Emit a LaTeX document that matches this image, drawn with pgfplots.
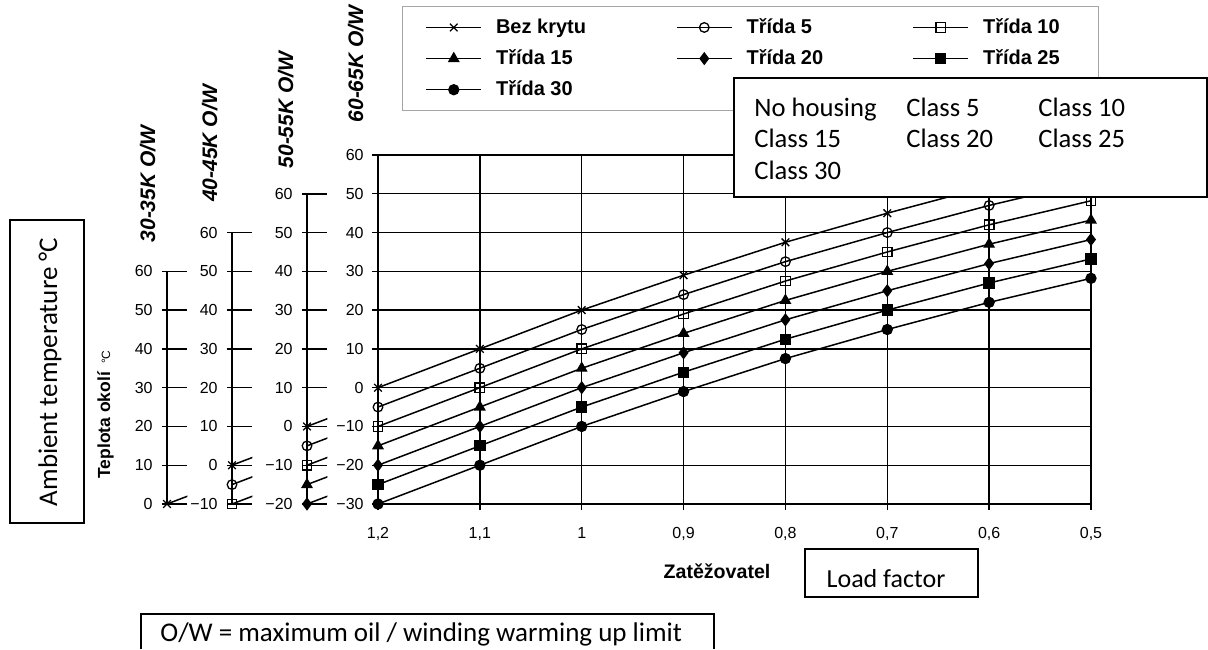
\documentclass[border=0pt]{standalone}
\usepackage{fontspec}
\setmainfont{Liberation Sans}
\newfontfamily\calfont{Carlito}
\usepackage{pgfplots}
\pgfplotsset{compat=1.18}
\usepackage{pgfplotstable}

% ambient temperature vs load factor, one column per housing class
\pgfplotstableread{
x    b     c5    c10   c15   c20   c25   c30
1.2  0     -5    -10   -15   -20   -25   -30
1.1  10    5     0     -5    -10   -15   -20
1.0  20    15    10    5     0     -5    -10
0.9  29    24    19    14    9     4     -1
0.8  37.5  32.5  27.5  22.5  17.5  12.5  7.5
0.7  45    40    35    30    25    20    15
0.6  52    47    42    37    32    27    22
0.5  58.2  53.2  48.2  43.2  38.2  33.2  28.2
}\loadtab

\newcommand\ylab{\pgfmathtruncatemacro\myt{\tick}\ifnum\myt<0 −\the\numexpr-\myt\relax\else\myt\fi}
\newcommand\tickfont{\fontsize{8}{9}\selectfont}

\pgfplotsset{
  ser/.style={black, line width=0.75pt, mark size=2.4pt, mark options={solid, line width=0.65pt}},
  sb/.style={ser, mark=x, mark size=2.7pt},
  s5/.style={ser, mark=o},
  s10/.style={ser, mark=square},
  s15/.style={ser, mark=triangle*, mark size=2.8pt},
  s20/.style={ser, mark=diamond*, mark size=2.8pt},
  s25/.style={ser, mark=square*, mark size=2.5pt},
  s30/.style={ser, mark=*, mark size=2.5pt},
  smallax/.style={
    scale only axis, anchor=south west, width=10.2pt,
    xmin=1.18, xmax=1.2, x dir=reverse,
    ymax=60, ytick distance=10,
    axis x line=none, axis y line=left,
    axis line style={black, line width=0.9pt, -},
    major tick length=12.5pt, tick align=inside,
    ytick style={black, line width=0.7pt, xshift=-2.5pt},
    yticklabel style={font=\tickfont, anchor=east, inner xsep=0pt, xshift=-7pt},
    yticklabel={\ylab},
  },
}

\begin{document}
\begin{tikzpicture}
\useasboundingbox (0,0) rectangle (604pt,324.5pt);

% 30-35K O/W scale
\begin{axis}[smallax, at={(83.5pt,72.5pt)}, height=116.35pt, ymin=0]
\addplot[sb] table[x=x, y=b] {\loadtab};
\end{axis}

% 40-45K O/W scale
\begin{axis}[smallax, at={(116pt,72.5pt)}, height=135.7pt, ymin=-10]
\addplot[sb] table[x=x, y=b] {\loadtab};
\addplot[s5] table[x=x, y=c5] {\loadtab};
\addplot[s10] table[x=x, y=c10] {\loadtab};
\end{axis}

% 50-55K O/W scale
\begin{axis}[smallax, at={(153.5pt,72.5pt)}, height=155.1pt, ymin=-20]
\addplot[sb] table[x=x, y=b] {\loadtab};
\addplot[s5] table[x=x, y=c5] {\loadtab};
\addplot[s10] table[x=x, y=c10] {\loadtab};
\addplot[s15] table[x=x, y=c15] {\loadtab};
\addplot[s20] table[x=x, y=c20] {\loadtab};
\end{axis}

% main chart, 60-65K O/W
\begin{axis}[
  at={(189pt,72.5pt)}, anchor=south west, scale only axis,
  width=356.5pt, height=174.5pt,
  xmin=0.5, xmax=1.2, x dir=reverse, ymin=-30, ymax=60,
  xtick={0.5,0.6,0.7,0.8,0.9,1,1.1,1.2},
  ytick={-30,-20,-10,0,10,20,30,40,50,60},
  grid=major, major grid style={black, line width=0.65pt},
  axis line style={black, line width=0.8pt},
  tick pos=left, tick align=outside, major tick length=3pt,
  tick style={black, line width=0.65pt},
  xticklabel style={font=\tickfont, yshift=-5pt,
    /pgf/number format/use comma, /pgf/number format/assume math mode=true},
  yticklabel style={font=\tickfont, inner xsep=0pt, xshift=-4pt},
  yticklabel={\ylab},
  legend columns=3,
  legend cell align=left,
  legend image code/.code={\draw[mark repeat=2, mark phase=2] plot coordinates {(0pt,0pt) (13.75pt,0pt) (27.5pt,0pt)};},
  legend style={at={(axis description cs:0.0337,1.427)}, anchor=north west,
    draw=gray!70, line width=0.5pt, row sep=2.6pt, inner xsep=11.5pt, inner ysep=4pt,
    /tikz/every odd column/.append style={column sep=5pt},
    font=\bfseries\fontsize{10}{11}\selectfont},
]
\addplot[sb] table[x=x, y=b] {\loadtab};
\addlegendentry{\makebox[88pt][l]{Bez krytu}}
\addplot[s5] table[x=x, y=c5] {\loadtab};
\addlegendentry{\makebox[81pt][l]{Třída 5}}
\addplot[s10] table[x=x, y=c10] {\loadtab};
\addlegendentry{\makebox[44pt][l]{Třída 10}}
\addplot[s15] table[x=x, y=c15] {\loadtab};
\addlegendentry{Třída 15}
\addplot[s20] table[x=x, y=c20] {\loadtab};
\addlegendentry{Třída 20}
\addplot[s25] table[x=x, y=c25] {\loadtab};
\addlegendentry{Třída 25}
\addplot[s30] table[x=x, y=c30] {\loadtab};
\addlegendentry{Třída 30}
\end{axis}

% scale headings
\begin{scope}[every node/.style={rotate=90, anchor=base, font=\bfseries\itshape\fontsize{10.5}{12}\selectfont}]
\node at (77.5pt,232.5pt) {30-35K O/W};
\node at (108.5pt,252.75pt) {40-45K O/W};
\node at (146.5pt,269.5pt) {50-55K O/W};
\node at (181.5pt,292.5pt) {60-65K O/W};
\end{scope}

\node[rotate=90, anchor=base, font=\bfseries\fontsize{8.75}{10}\selectfont] at (55pt,117.25pt) {Teplota okolí\hspace{4pt}{\mdseries\fontsize{6}{7}\selectfont °C}};
\node[anchor=base, font=\bfseries\fontsize{9.8}{11}\selectfont] at (358.5pt,35.25pt) {Zatěžovatel};

% English annotation boxes
\draw[line width=1pt, fill=white] (367pt,285.5pt) rectangle (603.5pt,226pt);
\begin{scope}[every node/.style={anchor=base west, inner sep=0pt, font=\calfont\fontsize{13.3}{15}\selectfont}]
\node at (377pt,266pt) {No housing};
\node at (453pt,266pt) {Class 5};
\node at (519pt,266pt) {Class 10};
\node at (377pt,251pt) {Class 15};
\node at (453pt,251pt) {Class 20};
\node at (519pt,251pt) {Class 25};
\node at (377pt,234.5pt) {Class 30};
\end{scope}

\draw[line width=1pt] (5pt,214.5pt) rectangle (42pt,63pt);
\node[rotate=90, anchor=base, inner sep=0pt, font=\calfont\fontsize{13.5}{15}\selectfont] at (28.5pt,138.5pt) {Ambient temperature °C};

\draw[line width=1pt] (402.5pt,50pt) rectangle (489pt,26pt);
\node[anchor=base, inner sep=0pt, font=\calfont\fontsize{13}{15}\selectfont] at (443pt,31pt) {Load factor};

\draw[line width=1pt] (70.5pt,0pt) -- (70.5pt,17.5pt) -- (357pt,17.5pt) -- (357pt,0pt);
\node[anchor=base west, inner sep=0pt, font=\calfont\fontsize{13.5}{15}\selectfont] at (80pt,4pt) {O/W = maximum oil / winding warming up limit};
\end{tikzpicture}
\end{document}
